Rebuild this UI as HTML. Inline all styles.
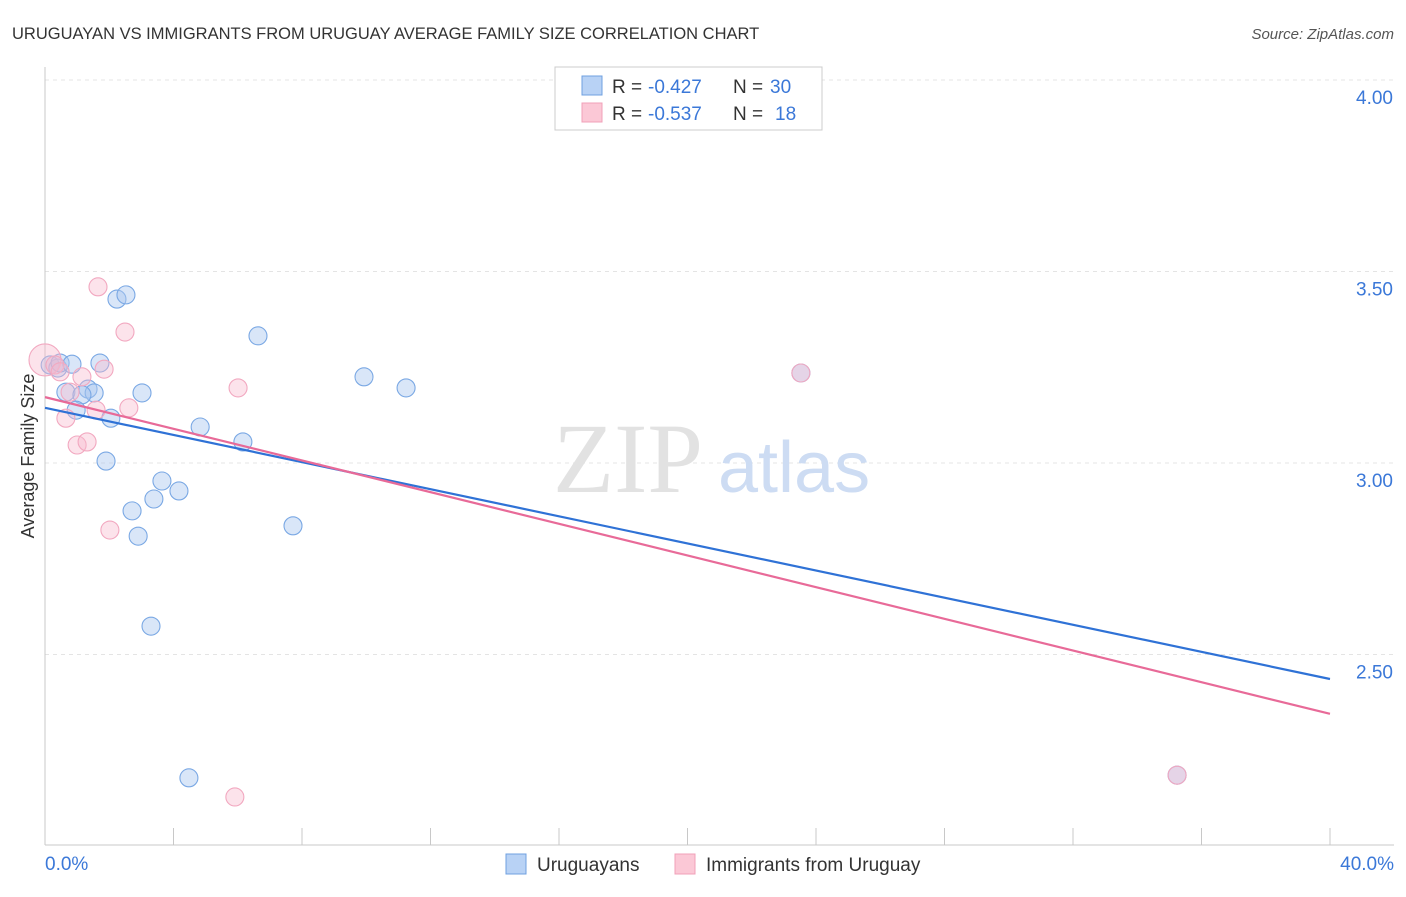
<!DOCTYPE html>
<html><head><meta charset="utf-8"><style>
body{margin:0;background:#fff;font-family:"Liberation Sans",sans-serif;}
</style></head><body>
<svg id="chart" width="1406" height="892" viewBox="0 0 1406 892" font-family="Liberation Sans, sans-serif">
<text x="12" y="39" font-size="16.5" fill="#333">URUGUAYAN VS IMMIGRANTS FROM URUGUAY AVERAGE FAMILY SIZE CORRELATION CHART</text>
<text x="1394" y="39" font-size="15" fill="#555" font-style="italic" text-anchor="end">Source: ZipAtlas.com</text>
<g id="grid"></g>
<g id="axes"></g>
<text x="553" y="492" font-size="100" fill="#e2e2e2" style="font-family:'Liberation Serif',serif">ZIP</text>
<text x="718" y="492" font-size="72" fill="#cddcf3">atlas</text>
<text transform="translate(34,456) rotate(-90)" font-size="18" fill="#333" text-anchor="middle">Average Family Size</text>
<g id="pts"></g>
<g id="lines"></g>
<g>
<rect x="555" y="67" width="267" height="63" fill="#fff" stroke="#ccc"/>
<rect x="582" y="76" width="20" height="19" fill="#b8d2f5" stroke="#6fa0e0"/>
<rect x="582" y="103" width="20" height="19" fill="#fbc8d6" stroke="#f0a0b8"/>
<text x="612" y="93" font-size="19" fill="#333">R =</text>
<text x="648" y="93" font-size="19" fill="#3b78d8">-0.427</text>
<text x="733" y="93" font-size="19" fill="#333">N =</text>
<text x="770" y="93" font-size="19" fill="#3b78d8">30</text>
<text x="612" y="120" font-size="19" fill="#333">R =</text>
<text x="648" y="120" font-size="19" fill="#3b78d8">-0.537</text>
<text x="733" y="120" font-size="19" fill="#333">N =</text>
<text x="775" y="120" font-size="19" fill="#3b78d8">18</text>
</g>
<g>
<rect x="506" y="854" width="20" height="20" fill="#b8d2f5" stroke="#6fa0e0"/>
<text x="537" y="871" font-size="19" fill="#333">Uruguayans</text>
<rect x="675" y="854" width="20" height="20" fill="#fbc8d6" stroke="#f0a0b8"/>
<text x="706" y="871" font-size="19" fill="#333">Immigrants from Uruguay</text>
</g>
</svg>
<script>
const yTicks=[2.5,3.0,3.5,4.0];
const yTickLabels=["2.50","3.00","3.50","4.00"];
const xTickLabels=["0.0%","40.0%"];
const blueX=[0.16,0.40,0.47,0.84,1.71,2.24,2.52,6.63,9.93,11.24,0.65,1.34,1.53,1.15,3.02,0.97,2.05,4.83,6.16,1.90,3.64,4.17,3.39,2.71,7.72,2.90,3.30,4.48,23.53,35.24];
const blueY=[3.256,3.248,3.261,3.258,3.261,3.428,3.439,3.332,3.225,3.196,3.185,3.193,3.183,3.178,3.183,3.138,3.117,3.094,3.055,3.005,2.953,2.927,2.906,2.875,2.836,2.809,2.574,2.178,3.235,2.185];
const pinkX=[0,0.31,1.65,2.49,0.47,1.15,1.84,6.01,0.78,1.59,2.61,0.65,1.00,1.31,2.02,5.91,23.53,35.24];
const pinkY=[3.269,3.256,3.460,3.342,3.238,3.225,3.245,3.196,3.185,3.138,3.144,3.117,3.047,3.055,2.825,2.128,3.235,2.185];
const pinkR=[16,9,9,9,9,9,9,9,9,9,9,9,9,9,9,9,9,9];
const blueTrend=[3.144,2.436];
const pinkTrend=[3.172,2.345];
const NS="http://www.w3.org/2000/svg";
const X=v=>45+v/40*1285;
const Y=v=>80+(4-v)*383;
function mk(t,a,p){const e=document.createElementNS(NS,t);for(const k in a)e.setAttribute(k,a[k]);p.appendChild(e);return e;}
const grid=document.getElementById('grid'),axes=document.getElementById('axes');
yTicks.forEach((t,i)=>{
 const l=mk('line',{x1:45,x2:1394,y1:Y(t),y2:Y(t),stroke:'#e4e4e4','stroke-dasharray':'4,4'},grid);
 
 
 const tx=mk('text',{x:1393,y:Y(t)+24,'font-size':19,fill:'#3b78d8','text-anchor':'end'},axes);
 tx.textContent=yTickLabels[i];
 
 
});
mk('line',{x1:45,x2:45,y1:67,y2:845,stroke:'#c8c8c8'},axes);
mk('line',{x1:45,x2:1394,y1:845,y2:845,stroke:'#c8c8c8'},axes);
for(let i=0;i<=10;i++){const x=X(i*4);mk('line',{x1:x,x2:x,y1:828,y2:845,stroke:'#c8c8c8'},axes);}
[[0,'start',45],[40,'end',1394]].forEach((d,i)=>{
 const tx=mk('text',{x:d[2],y:870,'font-size':19,fill:'#3b78d8','text-anchor':d[1]},axes);
 tx.textContent=xTickLabels[i];
 
 
});
const pts=document.getElementById('pts');
blueX.forEach((x,i)=>{
 const c=mk('circle',{cx:X(x),cy:Y(blueY[i]),r:9,fill:'rgba(170,200,240,0.45)',stroke:'#7aa8e4','stroke-width':1.1},pts);
 
 
});
pinkX.forEach((x,i)=>{
 const c=mk('circle',{cx:X(x),cy:Y(pinkY[i]),r:pinkR[i],fill:'rgba(248,185,205,0.4)',stroke:'#f2a8c0','stroke-width':1.1},pts);
 
 
});
const lines=document.getElementById('lines');
const b=mk('line',{x1:X(0),y1:Y(blueTrend[0]),x2:X(40),y2:Y(blueTrend[1]),stroke:'#2f72d6','stroke-width':2.2},lines);


const p=mk('line',{x1:X(0),y1:Y(pinkTrend[0]),x2:X(40),y2:Y(pinkTrend[1]),stroke:'#e86a98','stroke-width':2.2},lines);


</script>
</body></html>
